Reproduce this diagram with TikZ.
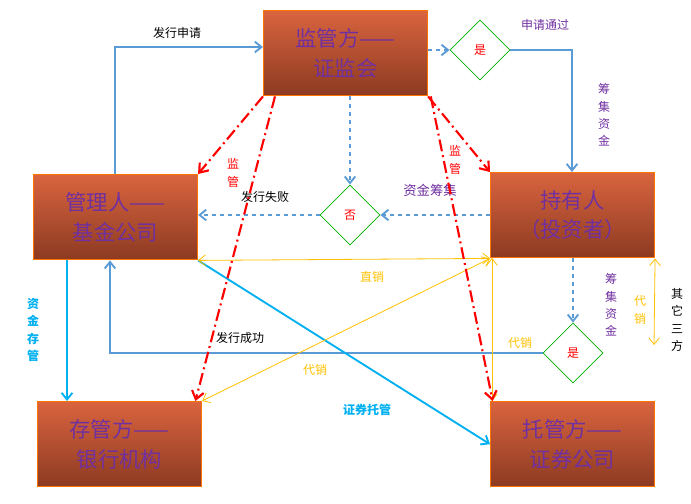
\documentclass[tikz,border=0pt]{standalone}
\usepackage{fontspec}
\setmainfont{Noto Sans CJK SC}
\usetikzlibrary{shapes.geometric,arrows.meta}
\definecolor{bl}{HTML}{5B9BD5}
\definecolor{cy}{HTML}{00B0F0}
\definecolor{yl}{HTML}{FFC000}
\definecolor{pu}{HTML}{7030A0}
\definecolor{bt}{HTML}{D9643F}
\definecolor{bb}{HTML}{8C3A22}
\begin{document}
\begin{tikzpicture}[x=0.75pt,y=-0.75pt,
 box/.style={draw=orange!90!red,line width=0.8pt,top color=bt,bottom color=bb,minimum width=123pt,minimum height=64pt,text=pu,font=\fontsize{16}{22}\selectfont,align=center,anchor=north west,inner sep=0pt},
 dia/.style={diamond,draw=green!50!black!60!green,line width=0.6pt,fill=white,minimum width=45pt,minimum height=45pt,inner sep=0pt,text=red,font=\small},
 sol/.style={bl,line width=1.4pt,-{Straight Barb[length=5pt,width=8pt]}},
 dsh/.style={bl,line width=1.4pt,dashed,-{Straight Barb[length=5pt,width=8pt]}},
 supv/.style={red,line width=1.6pt,dash pattern=on 9pt off 3pt on 1.5pt off 3pt,-{Straight Barb[length=6pt,width=9pt]}},
 ylw/.style={yl,line width=0.6pt,{Straight Barb[length=5pt,width=8pt]}-{Straight Barb[length=5pt,width=8pt]}},
 lab/.style={font=\fontsize{9}{11}\selectfont,inner sep=1pt},
 vlab/.style={font=\fontsize{9}{13}\selectfont,align=center,inner sep=1pt}]
\useasboundingbox (0,0) rectangle (691,503);
\node[box] (reg) at (263,10) {监管方——\\证监会};
\node[box] (mgr) at (33,174) {管理人——\\基金公司};
\node[box] (inv) at (490,172) {持有人\\（投资者）};
\node[box] (bank) at (37,401) {存管方——\\银行机构};
\node[box] (sec) at (490,401) {托管方——\\证券公司};
\node[dia] (yes1) at (480,50) {是};
\node[dia] (no) at (350,215) {否};
\node[dia] (yes2) at (573,353) {是};
% blue
\coordinate (c1) at (115,47);
\draw[sol] (mgr.north west -| c1) -- (c1) -- (reg.west |- c1);
\node[lab] at (177,33) {发行申请};
\draw[dsh] (reg.east |- yes1) -- (yes1.west);
\coordinate (c2) at (572,50);
\draw[sol] (yes1.east) -- (c2) -- (inv.north west -| c2);
\node[lab,pu] at (545,25) {申请通过};
\node[vlab,pu] at (604,115) {筹\\集\\资\\金};
\draw[dsh] (reg.south -| no) -- (no.north);
\draw[dsh] (inv.west |- no) -- (no.east);
\draw[dsh] (no.west) -- (mgr.east |- no);
\node[lab,pu,font=\fontsize{10}{12}\selectfont] at (430,190) {资金筹集};
\node[lab] at (265,197) {发行失败};
\draw[dsh] (inv.south -| yes2) -- (yes2.north);
\node[vlab,pu] at (611,305) {筹\\集\\资\\金};
\coordinate (c3) at (110,353);
\draw[sol] (yes2.west) -- (c3) -- (mgr.south west -| c3);
\node[lab,yl] at (520,343) {代销};
\node[lab] at (240,338) {发行成功};
% cyan
\coordinate (c4) at (67,300);
\draw[cy,line width=1.4pt,-{Straight Barb[length=5pt,width=8pt]}] (mgr.south west -| c4) -- (bank.north west -| c4);
\node[vlab,cy,font=\bfseries\fontsize{9}{13}\selectfont] at (33,330) {资\\金\\存\\管};
\draw[cy,line width=1.4pt,-{Straight Barb[length=5pt,width=8pt]}] (mgr.south east) -- (sec.west);
\node[lab,cy,font=\bfseries\fontsize{9}{11}\selectfont] at (367,410) {证券托管};
% yellow
\draw[ylw] (mgr.south east) -- (inv.south west);
\node[lab,yl] at (372,277) {直销};
\draw[ylw] (bank.north east) -- (inv.south west);
\node[lab,yl] at (315,370) {代销};
\coordinate (iv) at (492,258);
\draw[ylw] (iv) -- (iv |- sec.north);
\coordinate (q) at (654,345);
\draw[ylw] (inv.south east) -- (q);
\node[vlab,yl] at (640,310) {代\\销};
\node[vlab] at (677,320) {其\\它\\三\\方};
% red
\draw[supv] (reg.south west) -- (mgr.north east);
\node[vlab,red] at (233,173) {监\\管};
\draw[supv] ([xshift=9pt]reg.south west) -- ([xshift=-5pt]bank.north east);
\draw[supv] (reg.south east) -- (inv.north west);
\node[vlab,red] at (455,160) {监\\管};
\draw[supv] ([xshift=2pt]reg.south east) -- ([xshift=2pt]sec.north west);
\end{tikzpicture}
\end{document}
